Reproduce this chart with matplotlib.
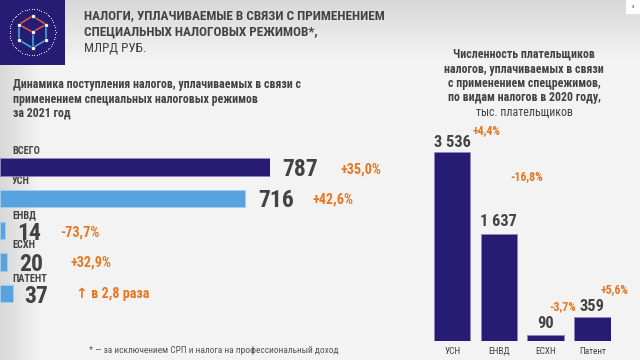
import numpy as np
import matplotlib
matplotlib.use('Agg')
import matplotlib.pyplot as plt

# left chart: receipts, bln rub
left_names = ['ВСЕГО', 'УСН', 'ЕНВД', 'ЕСХН', 'ПАТЕНТ']
left_values = [787, 716, 14, 20, 37]
left_changes = ['+35,0%', '+42,6%', '-73,7%', '+32,9%', '↑ в 2,8 раза']

# right chart: payers, thousands
right_names = ['УСН', 'ЕНВД', 'ЕСХН', 'Патент']
right_labels = ['3 536', '1 637', '90', '359']
# the reference bars are not in proportion to their labels, so heights are read from the picture
right_heights = [3536, 2002, 112, 449]
right_changes = ['+4,4%', '-16,8%', '-3,7%', '+5,6%']

NAVY = '#271c74'
BLUE = '#58a3df'
ORANGE = '#e8761e'
DARK = '#434343'

plt.rcParams['font.family'] = ['Roboto Condensed', 'DejaVu Sans']

fig = plt.figure(figsize=(6.4, 3.6), dpi=100)

# page in pixel coordinates, y going down
page = fig.add_axes([0, 0, 1, 1])
page.axis('off')

# background gradient
yy, xx = np.mgrid[0:360, 0:640]
top = np.clip(1 - yy / 60, 0, 1)
side = np.clip(1 - xx / 40, 0, 1) * np.clip((yy - 20) / 40, 0, 1)
bg = 0.953 - 0.11 * np.maximum(top, side)
page.imshow(bg, cmap='gray', vmin=0, vmax=1, extent=(0, 640, 360, 0), aspect='auto', zorder=0)
page.set_xlim(0, 640)
page.set_ylim(360, 0)

# logo
page.fill_between([0, 65], 0, 65, color=NAVY, lw=0, zorder=1)
t = np.linspace(0, 2 * np.pi, 60)
page.scatter(32.5 + 23 * np.cos(t), 32 + 23 * np.sin(t), s=0.8, color='#d8d6ea', lw=0, zorder=2)
nodes = {'t': (32.5, 16), 'l': (19, 24.5), 'r': (46, 24.5), 'c': (32.5, 32),
         'a': (19, 40), 'b': (46, 40), 'd': (32.5, 48)}
for p, q in ['tl', 'tr', 'lc', 'rc']:
    page.plot(*zip(nodes[p], nodes[q]), color='#e0603a', lw=1.1, zorder=2)
for p, q in ['la', 'rb', 'cd', 'ad', 'bd']:
    page.plot(*zip(nodes[p], nodes[q]), color='#3fb6e0', lw=1.1, zorder=2)
for x, y in nodes.values():
    page.scatter(x, y, s=9, color='white', edgecolor=NAVY, lw=0.5, zorder=3)

# page number
page.fill_between([626, 640], 0, 14, color='white', lw=0, zorder=1)
page.text(633, 7, '14', fontsize=3, color='#555555', ha='center', va='center')

# headings
for y, s, w in [(16, 'НАЛОГИ, УПЛАЧИВАЕМЫЕ В СВЯЗИ С ПРИМЕНЕНИЕМ', 'bold'),
                (32, 'СПЕЦИАЛЬНЫХ НАЛОГОВЫХ РЕЖИМОВ*,', 'bold'),
                (48, 'МЛРД РУБ.', 'normal')]:
    page.text(84, y, s, fontsize=9.55, color=DARK, weight=w, va='center')
for y, s in [(84.5, 'Динамика поступления налогов, уплачиваемых в связи с'),
             (99, 'применением специальных налоговых режимов'),
             (113, 'за 2021 год')]:
    page.text(13, y, s, fontsize=8.6, color=DARK, weight='bold', va='center')
for y, s, w in [(54.5, 'Численность плательщиков', 'bold'), (69, 'налогов, уплачиваемых в связи', 'bold'),
                (83.5, 'с применением спецрежимов,', 'bold'), (98, 'по видам налогов в 2020 году,', 'bold'),
                (112.5, 'тыс. плательщиков', 'normal')]:
    page.text(524, y, s, fontsize=8.6, color=DARK, weight=w, ha='center', va='center')
page.text(213.5, 350.5, '* — за исключением СРП и налога на профессиональный доход',
          fontsize=6.75, color='#555555', ha='center', va='center')

# left bars: 0..787 spans 0..269.5 px, rows 31.63 px apart starting at y=167
axl = fig.add_axes([0, 1 - 309.3 / 360, 269.5 / 640, (309.3 - 151.2) / 360])
axl.set_xlim(0, 787)
axl.set_ylim(4.5, -0.5)
axl.axis('off')
axl.patch.set_alpha(0)
left_colors = [NAVY, BLUE, BLUE, BLUE, BLUE]
left_edges = ['#8f88bd', '#a5cdee', '#a5cdee', '#a5cdee', '#a5cdee']
axl.barh(range(5), left_values, height=0.55, color=left_colors, edgecolor=left_edges, lw=0.6)

value_off = [(12.5, 2), (13, 2), (12, 3), (12, 3), (12, 3)]
change_off = [(70.5, 3), (67, 1), (55, 2), (64, 1), (63, 1)]
name_y = [150.5, 181.5, 215, 245, 279]
for i, (n, v, c) in enumerate(zip(left_names, left_values, left_changes)):
    axl.annotate(str(v), (v, i), xytext=(value_off[i][0] * 0.72, value_off[i][1] * -0.72),
                 textcoords='offset points', fontsize=17, weight='bold', color=DARK,
                 va='center', annotation_clip=False)
    axl.annotate(c, (v, i), xytext=(change_off[i][0] * 0.72, change_off[i][1] * -0.72),
                 textcoords='offset points', fontsize=10.2, weight='bold', color=ORANGE,
                 va='center', annotation_clip=False)
    page.text(12, name_y[i], n, fontsize=7.4, weight='bold', color=DARK, va='center')

# right bars: baseline at y=341, tallest top at y=152
axr = fig.add_axes([434 / 640, 1 - 341 / 360, (610.5 - 434) / 640, 189 / 360])
axr.set_ylim(0, 3536)
axr.axis('off')
axr.patch.set_alpha(0)
xpos = np.arange(4)
axr.bar(xpos, right_heights, width=0.78, color=NAVY, edgecolor='#8f88bd', lw=0.6)
axr.set_xlim(-0.39, 3.39)

label_dy = [9, 12, 12, 11]
change_off_r = [(34.5, 21), (27.7, 57), (17, 28), (22.5, 27)]
for i, (n, lab, h, c) in enumerate(zip(right_names, right_labels, right_heights, right_changes)):
    axr.annotate(lab, (i, h), xytext=(0, label_dy[i] * 0.72), textcoords='offset points', fontsize=11.8,
                 weight='bold', color=DARK, ha='center', va='center', annotation_clip=False)
    axr.annotate(c, (i, h), xytext=(change_off_r[i][0] * 0.72, change_off_r[i][1] * 0.72),
                 textcoords='offset points', fontsize=8.6, weight='bold', color=ORANGE,
                 ha='center', va='center', annotation_clip=False)
    axr.annotate(n, (i, 0), xytext=(0, -10 * 0.72), textcoords='offset points', fontsize=6.7,
                 color=DARK, ha='center', va='center', annotation_clip=False)

fig.savefig('out.png', dpi=100)
